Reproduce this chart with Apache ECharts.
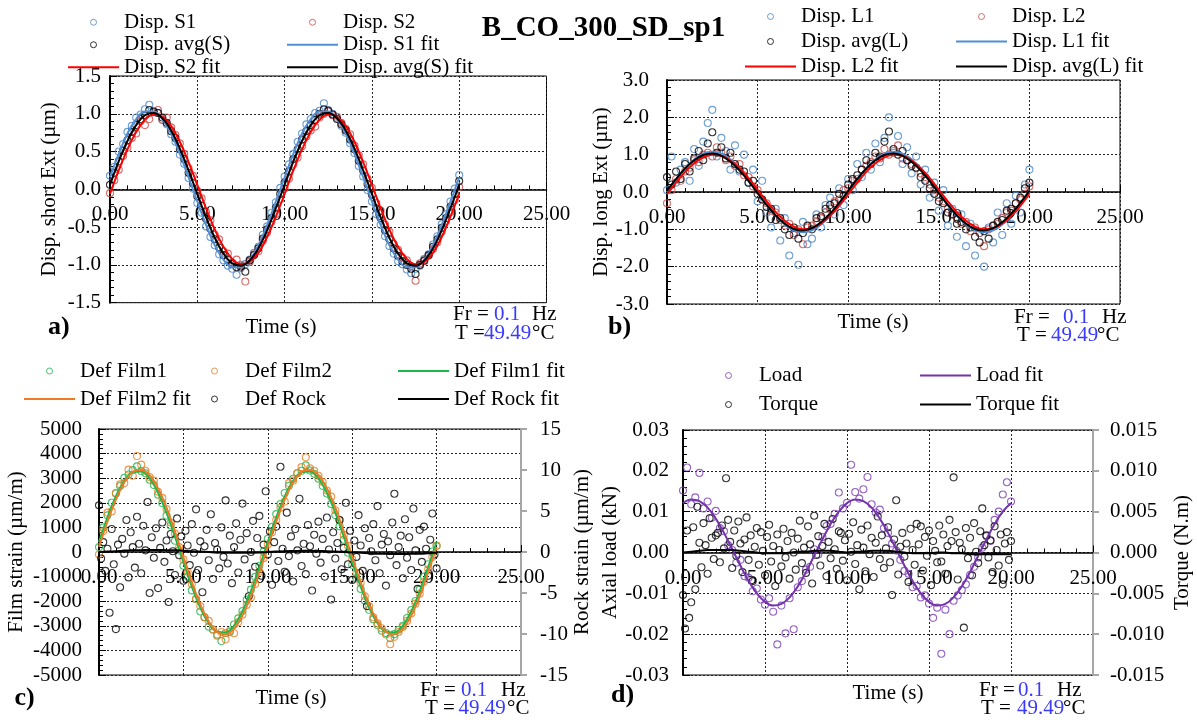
<!DOCTYPE html>
<html>
<head>
<meta charset="utf-8">
<script src="https://cdn.jsdelivr.net/npm/echarts@6.0.0/dist/echarts.min.js"></script>
<style>
html,body{margin:0;padding:0;background:#fff;}
#chart{width:1197px;height:720px;}
</style>
</head>
<body>
<div id="chart"></div>
<script>
// ---- acquisition grids (s) ----
const STEP_SCAN = 0.25;   // displacement / film / load sampling
const STEP_FAST = 0.125;  // rock strain / torque sampling
const STEP_FIT = 0.5;     // fitted curves
const N_SCAN = 81, N_FAST = 161, N_FIT = 41;

// ---- a) short displacement (µm) ----
const dispS1 = [0.18,0.30,0.50,0.60,0.76,0.84,0.95,0.99,1.06,1.12,
 1.03,1.01,0.92,0.86,0.73,0.63,0.46,0.34,0.15,0.01,
 -0.18,-0.31,-0.49,-0.63,-0.74,-0.86,-0.94,-1.01,-1.05,-1.13,
 -1.04,-0.99,-0.93,-0.84,-0.76,-0.60,-0.49,-0.31,-0.17,0.02,
 0.17,0.33,0.47,0.63,0.74,0.86,0.93,1.01,1.04,1.14,
 1.05,1.00,0.94,0.84,0.75,0.61,0.48,0.31,0.17,-0.01,
 -0.16,-0.33,-0.47,-0.62,-0.75,-0.85,-0.95,-0.99,-1.06,-1.11,
 -1.05,-1.01,-0.92,-0.86,-0.73,-0.62,-0.46,-0.33,-0.16,0.01,
 0.19];
const dispS2 = [-0.05,0.12,0.26,0.44,0.55,0.68,0.74,0.90,0.85,0.93,
 1.02,1.05,0.92,0.95,0.82,0.72,0.61,0.47,0.28,0.18,
 -0.02,-0.12,-0.30,-0.41,-0.60,-0.66,-0.82,-0.85,-0.97,-0.93,
 -1.00,-1.22,-0.96,-0.86,-0.82,-0.68,-0.57,-0.43,-0.33,-0.13,
 0.01,0.14,0.33,0.42,0.57,0.70,0.78,0.83,0.95,1.00,
 1.03,0.98,0.96,0.88,0.80,0.73,0.58,0.45,0.33,0.14,
 0.02,-0.18,-0.28,-0.47,-0.56,-0.72,-0.80,-0.90,-0.94,-1.02,
 -1.21,-0.98,-0.95,-0.88,-0.79,-0.70,-0.56,-0.42,-0.30,-0.14,
 0.03];
const dispAvgS = [0.06,0.22,0.37,0.51,0.65,0.76,0.85,0.93,0.98,1.05,
 1.03,1.01,0.95,0.88,0.77,0.68,0.53,0.40,0.22,0.08,
 -0.09,-0.22,-0.39,-0.52,-0.66,-0.77,-0.87,-0.93,-0.99,-1.03,
 -1.02,-1.09,-0.94,-0.87,-0.78,-0.65,-0.53,-0.38,-0.24,-0.06,
 0.09,0.24,0.40,0.53,0.66,0.77,0.85,0.92,1.00,1.06,
 1.04,0.99,0.93,0.86,0.78,0.66,0.53,0.38,0.25,0.07,
 -0.07,-0.25,-0.38,-0.54,-0.66,-0.78,-0.88,-0.95,-1.00,-1.05,
 -1.12,-1.00,-0.94,-0.87,-0.76,-0.66,-0.51,-0.38,-0.23,-0.06,
 0.11];
const fitS1 = [0.16,0.47,0.74,0.93,1.03,1.03,0.93,0.74,0.47,0.16,-0.16,-0.47,-0.74,-0.93,-1.03,-1.03,-0.93,-0.74,-0.47,-0.16,
 0.16,0.47,0.74,0.93,1.03,1.03,0.93,0.74,0.47,0.16,-0.16,-0.47,-0.74,-0.93,-1.03,-1.03,-0.93,-0.74,-0.47,-0.16,0.16];
const fitS2 = [-0.06,0.25,0.53,0.76,0.92,0.99,0.96,0.84,0.63,0.36,0.06,-0.25,-0.53,-0.76,-0.92,-0.99,-0.96,-0.84,-0.63,-0.36,
 -0.06,0.25,0.53,0.76,0.92,0.99,0.96,0.84,0.63,0.36,0.06,-0.25,-0.53,-0.76,-0.92,-0.99,-0.96,-0.84,-0.63,-0.36,-0.06];
const fitAvgS = [0.06,0.37,0.64,0.85,0.98,1.01,0.94,0.78,0.54,0.25,-0.06,-0.37,-0.64,-0.85,-0.98,-1.01,-0.94,-0.78,-0.54,-0.25,
 0.06,0.37,0.64,0.85,0.98,1.01,0.94,0.78,0.54,0.25,-0.06,-0.37,-0.64,-0.85,-0.98,-1.01,-0.94,-0.78,-0.54,-0.25,0.06];

// ---- b) long displacement (µm) ----
const dispL1 = [0.05,0.95,0.25,0.60,0.80,0.30,1.15,0.70,1.35,1.85,
 2.20,0.95,1.45,1.10,0.60,1.25,0.55,1.00,0.25,0.60,
 -0.25,0.30,-0.55,-0.95,-0.45,-1.30,-0.70,-1.70,-1.10,-1.95,
 -0.80,-1.40,-1.25,-0.60,-0.95,-0.35,-0.15,-0.60,0.10,-0.35,
 0.35,0.05,0.75,0.40,1.05,0.60,1.30,0.80,1.45,2.00,
 1.10,1.50,0.75,1.20,0.50,0.95,0.20,0.60,-0.15,0.25,
 -0.50,0.05,-0.90,-0.45,-1.20,-0.60,-1.45,-0.85,-1.70,-1.10,
 -2.00,-0.95,-1.35,-0.55,-1.15,-0.30,-0.85,-0.10,-0.55,0.20,
 0.60];
const dispL2 = [-0.30,0.05,0.35,0.30,0.55,0.65,0.85,0.80,1.00,1.05,
 0.95,1.20,1.05,0.85,0.95,0.70,0.75,0.45,0.40,0.15,
 0.05,-0.20,-0.30,-0.50,-0.55,-0.75,-0.90,-0.85,-1.15,-1.00,
 -1.40,-0.95,-0.90,-0.80,-0.70,-0.55,-0.45,-0.25,-0.20,0.05,
 0.10,0.30,0.35,0.60,0.70,0.80,0.95,0.90,1.15,1.00,
 1.05,1.25,0.90,0.85,0.75,0.65,0.50,0.40,0.20,0.05,
 -0.15,-0.25,-0.45,-0.60,-0.70,-0.85,-0.80,-1.05,-0.95,-1.10,
 -1.45,-1.00,-0.90,-0.85,-0.70,-0.55,-0.50,-0.30,-0.20,-0.05,
 0.15];
const dispAvgL = [0.40,0.20,0.55,0.35,0.75,0.55,0.90,1.10,0.85,1.30,
 1.60,1.05,1.20,0.90,1.05,0.75,0.60,0.55,0.25,0.30,
 -0.05,-0.20,-0.40,-0.45,-0.75,-0.70,-1.00,-1.15,-0.95,-1.25,
 -1.10,-0.90,-1.00,-0.70,-0.65,-0.45,-0.35,-0.30,-0.05,-0.10,
 0.20,0.35,0.45,0.60,0.85,0.75,1.05,0.95,1.35,1.62,
 1.15,1.00,1.10,0.85,0.70,0.65,0.40,0.30,0.10,-0.05,
 -0.25,-0.30,-0.55,-0.60,-0.85,-0.80,-1.00,-0.95,-1.20,-1.35,
 -1.05,-1.25,-0.90,-0.80,-0.75,-0.50,-0.45,-0.30,-0.15,0.10,
 0.25];
const fitL1 = [0,0.33,0.64,0.87,1.03,1.08,1.03,0.87,0.64,0.33,0,-0.33,-0.64,-0.87,-1.03,-1.08,-1.03,-0.87,-0.64,-0.33,
 0,0.33,0.64,0.87,1.03,1.08,1.03,0.87,0.64,0.33,0,-0.33,-0.64,-0.87,-1.03,-1.08,-1.03,-0.87,-0.64,-0.33,0];
const fitL2 = [-0.06,0.25,0.54,0.77,0.93,1.00,0.97,0.84,0.64,0.37,0.06,-0.25,-0.54,-0.77,-0.93,-1.00,-0.97,-0.84,-0.64,-0.37,
 -0.06,0.25,0.54,0.77,0.93,1.00,0.97,0.84,0.64,0.37,0.06,-0.25,-0.54,-0.77,-0.93,-1.00,-0.97,-0.84,-0.64,-0.37,-0.06];
const fitAvgL = [0.03,0.35,0.63,0.85,0.99,1.03,0.97,0.81,0.58,0.29,-0.03,-0.35,-0.63,-0.85,-0.99,-1.03,-0.97,-0.81,-0.58,-0.29,
 0.03,0.35,0.63,0.85,0.99,1.03,0.97,0.81,0.58,0.29,-0.03,-0.35,-0.63,-0.85,-0.99,-1.03,-0.97,-0.81,-0.58,-0.29,0.03];

// ---- c) film strain (µm/m) and rock strain (µm/m) ----
const defFilm1 = [200,1000,1490,2000,2380,2680,3020,3150,3330,3480,
 3290,3200,2940,2720,2330,1990,1480,1080,460,60,
 -560,-1000,-1560,-1920,-2420,-2650,-3040,-3150,-3360,-3620,
 -3300,-3250,-2950,-2700,-2400,-1940,-1530,-1010,-560,20,
 540,1020,1540,1950,2400,2690,2980,3200,3300,3520,
 3310,3180,2980,2690,2380,1950,1500,1050,500,-30,
 -520,-1060,-1500,-1980,-2350,-2730,-2970,-3200,-3290,-3500,
 -3340,-3160,-3000,-2680,-2360,-1990,-1520,-1000,-500,20,
 250];
const defFilm2 = [-100,850,1600,1650,2400,2750,2800,3350,3100,3900,
 3550,3300,3050,2900,2450,2200,1750,1200,750,200,
 -300,-800,-1300,-1900,-2200,-2650,-2800,-3150,-3400,-3250,
 -3550,-3200,-3300,-2850,-2550,-2150,-1850,-1300,-800,-250,
 300,800,1300,1800,2050,2800,2900,3200,3450,3850,
 3400,3300,3100,2850,2500,2250,1700,1300,700,250,
 -300,-850,-1250,-1800,-2200,-2650,-2900,-3100,-3350,-3750,
 -3450,-3250,-3050,-2800,-2500,-2100,-1700,-1200,-700,-200,
 250];
const fitFilm1 = [410,1410,2260,2890,3240,3270,2990,2410,1590,620,-410,-1410,-2260,-2890,-3240,-3270,-2990,-2410,-1590,-620,
 410,1410,2260,2890,3240,3270,2990,2410,1590,620,-410,-1410,-2260,-2890,-3240,-3270,-2990,-2410,-1590,-620,410];
const fitFilm2 = [210,1230,2130,2830,3250,3340,3120,2580,1800,830,-210,-1230,-2130,-2830,-3250,-3340,-3120,-2580,-1800,-830,
 210,1230,2130,2830,3250,3340,3120,2580,1800,830,-210,-1230,-2130,-2830,-3250,-3340,-3120,-2580,-1800,-830,210];
const defRock = [5.7,-0.8,1.2,-2.3,0.4,-7.4,2.8,-1.5,-9.4,0.9,-4.3,1.6,-0.2,3.9,-3.1,2.4,0.6,-1.9,4.3,1.0,
 -2.6,3.2,0.2,6.1,-5.0,1.8,-0.7,2.9,-4.4,0.5,3.6,-1.2,1.4,-6.1,2.2,0.1,-2.8,4.1,-0.4,1.9,
 -3.5,2.6,0.8,-1.6,3.4,-0.1,5.2,-2.2,1.3,-4.9,0.7,2.7,-1.0,4.6,-3.3,1.1,0.3,-2.0,3.0,-0.6,
 6.3,-1.4,2.0,-3.8,0.6,3.5,-2.5,1.5,5.9,-0.9,2.3,-5.4,0.0,3.8,-1.8,1.7,4.4,-2.9,0.9,7.4,
 -0.3,2.5,-4.0,1.2,3.1,-1.1,10.4,0.4,-2.4,4.8,-0.5,1.9,-3.6,2.8,0.2,6.5,-1.7,1.0,-2.7,3.3,
 0.7,-4.7,2.1,-0.2,3.7,-1.3,1.6,-3.0,4.2,0.3,-5.8,2.4,-0.8,1.1,3.9,-2.1,0.5,6.0,-1.5,2.6,
 -3.4,1.4,-0.6,4.5,0.8,-2.3,2.9,-6.6,1.7,0.1,3.4,-1.0,5.6,-2.6,0.9,2.2,-4.1,1.3,-0.4,3.6,
 7.1,-1.6,0.6,2.0,-3.2,4.0,-0.7,1.8,-2.2,5.3,0.2,-4.5,2.7,-1.2,3.1,0.4,-2.9,1.5,4.7,-0.3,
 -2.0];
const fitRock = [0.0,0.05,0.1,0.15,0.2,0.22,0.25,0.25,0.22,0.2,0.15,0.1,0.05,0.0,-0.05,-0.08,-0.1,-0.1,-0.08,-0.05,
 0.0,0.05,0.1,0.12,0.15,0.15,0.12,0.1,0.05,0.0,-0.05,-0.1,-0.15,-0.2,-0.22,-0.25,-0.25,-0.22,-0.2,-0.15,-0.1];

// ---- d) axial load (kN) and torque (N.m) ----
const axialLoad = [0.0152,0.0208,0.0118,0.0135,0.0195,0.0108,0.0125,0.0085,0.0102,0.0060,
 0.0052,0.0018,0.0006,-0.0025,-0.0018,-0.0058,-0.0062,-0.0095,-0.0088,-0.0115,
 -0.0128,-0.0112,-0.0145,-0.0225,-0.0130,-0.0198,-0.0112,-0.0188,-0.0085,-0.0070,
 -0.0042,-0.0035,0.0008,-0.0005,0.0038,0.0065,0.0070,0.0095,0.0147,0.0108,
 0.0122,0.0215,0.0148,0.0132,0.0155,0.0185,0.0118,0.0098,0.0105,0.0060,
 0.0048,0.0022,0.0005,-0.0018,-0.0045,-0.0052,-0.0085,-0.0082,-0.0110,-0.0105,
 -0.0125,-0.0160,-0.0135,-0.0248,-0.0140,-0.0200,-0.0118,-0.0105,-0.0092,-0.0078,
 -0.0055,-0.0035,-0.0012,0.0012,0.0040,0.0028,0.0080,0.0100,0.0142,0.0172,
 0.0125];
const fitLoad = [0.0121,0.0130,0.0126,0.0110,0.0083,0.0048,0.0008,-0.0032,-0.0070,-0.0100,-0.0121,-0.0130,-0.0126,-0.0110,-0.0083,-0.0048,-0.0008,0.0032,0.0070,0.0100,
 0.0121,0.0130,0.0126,0.0110,0.0083,0.0048,0.0008,-0.0032,-0.0070,-0.0100,-0.0121,-0.0130,-0.0126,-0.0110,-0.0083,-0.0048,-0.0008,0.0032,0.0070,0.0100,0.0121];
const torque = [-0.0052,-0.0093,0.0027,-0.0080,-0.0061,0.0031,-0.0045,0.0056,0.0012,-0.0018,0.0036,0.0009,-0.0026,0.0042,0.0018,-0.0008,0.0021,0.0024,-0.0012,0.0033,
 0.0005,0.0091,0.0040,0.0013,-0.0019,0.0027,-0.0004,0.0038,0.0011,-0.0024,0.0016,0.0043,-0.0009,0.0021,-0.0035,0.0007,0.0030,-0.0015,0.0025,0.0002,
 -0.0028,0.0019,0.0034,-0.0011,0.0008,-0.0041,0.0022,0.0003,-0.0017,0.0029,-0.0006,0.0014,-0.0032,0.0024,0.0000,-0.0021,0.0017,0.0039,-0.0013,0.0006,
 -0.0025,0.0032,0.0010,-0.0038,0.0045,-0.0003,0.0020,-0.0016,0.0008,0.0035,-0.0029,0.0013,-0.0007,0.0041,0.0004,-0.0020,0.0026,0.0024,-0.0010,0.0015,
 -0.0034,0.0023,0.0001,0.0037,-0.0014,0.0009,-0.0045,0.0028,0.0006,-0.0023,0.0033,-0.0002,0.0018,-0.0030,0.0012,0.0044,-0.0008,0.0021,-0.0019,0.0005,
 0.0031,-0.0012,-0.0052,0.0016,0.0064,-0.0027,0.0007,0.0024,-0.0005,0.0011,-0.0036,0.0029,0.0003,-0.0015,0.0035,0.0010,0.0032,-0.0022,0.0019,-0.0004,
 0.0027,-0.0040,0.0014,0.0002,-0.0012,0.0033,-0.0011,0.0022,-0.0026,0.0008,0.0040,0.0014,0.0092,0.0025,-0.0033,0.0012,0.0004,-0.0092,0.0030,-0.0007,
 0.0018,-0.0028,0.0036,0.0001,-0.0013,0.0026,0.0054,0.0009,0.0021,-0.0006,0.0015,-0.0024,0.0032,0.0003,-0.0016,0.0022,-0.0039,0.0011,0.0025,-0.0009,
 0.0014];
const fitTorque = [0.0000,0.0001,0.0002,0.0003,0.0003,0.0003,0.0003,0.0002,0.0001,0.0000,
 -0.0001,-0.0001,-0.0001,0.0000,0.0001,0.0001,0.0002,0.0002,0.0002,0.0001,
 0.0000,0.0001,0.0001,0.0002,0.0002,0.0002,0.0001,0.0000,-0.0001,-0.0001,
 -0.0001,0.0000,0.0000,-0.0001,-0.0001,-0.0002,-0.0002,-0.0002,-0.0002,-0.0002,
 -0.0002];

// ---- test conditions ----
const FREQ = '0.1';
const TEMP = '49.49';
const TITLE = 'B_CO_300_SD_sp1';

// ---------------------------------------------------------------
const FONT = '"Liberation Serif","Times New Roman",serif';
const FS = 21;
const GRIDLINE = { show: true, lineStyle: { color: '#222', type: [2, 2], width: 1 } };
// flat bar used as the legend key of the fitted curves
const LINE_KEY = 'path://M0,0L51,0L51,2.2L0,2.2Z';

function sampleTimes(step, n) {
  const out = [];
  for (let i = 0; i < n; i++) out.push(+(i * step).toFixed(3));
  return out;
}
const tScan = sampleTimes(STEP_SCAN, N_SCAN);
const tFast = sampleTimes(STEP_FAST, N_FAST);
const tFit = sampleTimes(STEP_FIT, N_FIT);

function pairs(ts, vs) { return vs.map((v, i) => [ts[i], v]); }

function scatter(name, xi, yi, ts, vs, color) {
  return {
    type: 'scatter', name, xAxisIndex: xi, yAxisIndex: yi,
    data: pairs(ts, vs), symbol: 'circle', symbolSize: 7,
    itemStyle: { color: 'rgba(255,255,255,0)', borderColor: color, borderWidth: 1.1 },
    emphasis: { disabled: true }, z: 2
  };
}
function fitLine(name, xi, yi, vs, color) {
  return {
    type: 'line', name, xAxisIndex: xi, yAxisIndex: yi,
    data: pairs(tFit, vs), showSymbol: false, symbol: 'none', smooth: 0.4,
    lineStyle: { color, width: 2 }, itemStyle: { color },
    emphasis: { disabled: true }, z: 3
  };
}

// time axis drawn through the zero of the value axis (ranges are symmetric)
function xAxis(gi, gridHeight) {
  return {
    type: 'value', gridIndex: gi, min: 0, max: 25, interval: 5,
    position: 'bottom', offset: -gridHeight / 2,
    axisLine: { onZero: false, lineStyle: { color: '#000', width: 1.5 } },
    axisTick: { show: true, inside: true, length: 7, lineStyle: { color: '#000' } },
    minorTick: { show: true, splitNumber: 5, length: 4, lineStyle: { color: '#000' } },
    axisLabel: { formatter: v => v.toFixed(2), margin: 15, color: '#000', fontFamily: FONT, fontSize: FS },
    splitLine: GRIDLINE
  };
}
function yLeft(gi, min, max, step, dec, name, nameGap, margin) {
  return {
    type: 'value', gridIndex: gi, min, max, interval: step, position: 'left',
    name, nameLocation: 'middle', nameGap, nameRotate: 90,
    nameTextStyle: { fontFamily: FONT, fontSize: FS, color: '#000' },
    axisLine: { show: true, onZero: false, lineStyle: { color: '#000', width: 2 } },
    axisTick: { show: true, inside: true, length: 7, lineStyle: { color: '#000' } },
    minorTick: { show: true, splitNumber: 5, length: 4, lineStyle: { color: '#000' } },
    axisLabel: { formatter: v => v.toFixed(dec), margin, color: '#000', fontFamily: FONT, fontSize: FS },
    splitLine: GRIDLINE
  };
}
function yRight(gi, min, max, step, dec, name, nameGap, margin) {
  return {
    type: 'value', gridIndex: gi, min, max, interval: step, position: 'right',
    name, nameLocation: 'middle', nameGap, nameRotate: 90,
    nameTextStyle: { fontFamily: FONT, fontSize: FS, color: '#000' },
    axisLine: { show: true, onZero: false, lineStyle: { color: '#a6a6a6', width: 2 } },
    axisTick: { show: true, inside: false, length: 6, lineStyle: { color: '#a6a6a6', width: 2 } },
    axisLabel: { formatter: v => v.toFixed(dec), margin, color: '#000', fontFamily: FONT, fontSize: FS },
    splitLine: { show: false }
  };
}
function legend(left, top, names, lineH) {
  return {
    orient: 'vertical', left, top, padding: 0, itemGap: 0,
    itemWidth: 51, itemHeight: 6, selectedMode: false,
    itemStyle: { borderWidth: 1 },
    data: names.map(n => / fit$/.test(n) ? { name: n, icon: LINE_KEY } : n),
    textStyle: { fontFamily: FONT, fontSize: FS, color: '#000', lineHeight: lineH }
  };
}
function txt(x, y, text, opt) {
  opt = opt || {};
  return {
    type: 'text', x, y, silent: true,
    style: {
      text, fill: opt.color || '#000',
      font: (opt.bold ? 'bold ' : '') + (opt.size || FS) + 'px ' + FONT,
      align: opt.align || 'left', verticalAlign: 'middle',
      textAlign: opt.align || 'left', textVerticalAlign: 'middle'
    }
  };
}
function conditions(xs, yFr, yT) {
  const blue = '#3a3aff';
  return [
    txt(xs[0], yFr, 'Fr ='), txt(xs[1], yFr, FREQ, { color: blue }), txt(xs[2], yFr, 'Hz'),
    txt(xs[3], yT, 'T ='), txt(xs[4], yT, TEMP, { color: blue }), txt(xs[5], yT, '°C')
  ];
}

const BLUE = '#4a86c8', RED = '#cc4b4b', BLUE_FIT = '#4f8fd6', RED_FIT = '#ff0000';
const GREEN = '#22b04e', GREEN_FIT = '#1db84a', ORANGE = '#f07c22', ORANGE_FIT = '#ee7a26';
const PURPLE = '#7b3fb8', PURPLE_FIT = '#7433aa';

const GRIDS = [
  { left: 110, top: 76, width: 436.5, height: 226.7 },
  { left: 667, top: 80, width: 453, height: 224 },
  { left: 99, top: 429, width: 422, height: 246 },
  { left: 683, top: 430, width: 410, height: 245 }
];

const option = {
  animation: false,
  backgroundColor: '#fff',
  grid: GRIDS.map(g => Object.assign({ show: true, borderColor: '#000', borderWidth: 1 }, g)),
  xAxis: GRIDS.map((g, i) => xAxis(i, g.height)),
  yAxis: [
    yLeft(0, -1.5, 1.5, 0.5, 1, 'Disp. short Ext (µm)', 50, 9),
    yLeft(1, -3, 3, 1, 1, 'Disp. long Ext (µm)', 48, 18),
    yLeft(2, -5000, 5000, 1000, 0, 'Film strain (µm/m)', 72, 17),
    yRight(2, -15, 15, 5, 0, 'Rock strain (µm/m)', 44, 19),
    yLeft(3, -0.03, 0.03, 0.01, 2, 'Axial load (kN)', 62, 14),
    yRight(3, -0.015, 0.015, 0.005, 3, 'Torque (N.m)', 79, 17)
  ],
  legend: [
    legend(68, 11, ['Disp. S1', 'Disp. avg(S)', 'Disp. S2 fit'], 22.5),
    legend(287, 11, ['Disp. S2', 'Disp. S1 fit', 'Disp. avg(S) fit'], 22.5),
    legend(745, 4, ['Disp. L1', 'Disp. avg(L)', 'Disp. L2 fit'], 25),
    legend(956, 4, ['Disp. L2', 'Disp. L1 fit', 'Disp. avg(L) fit'], 25),
    legend(24, 357, ['Def Film1', 'Def Film2 fit'], 28),
    legend(211, 357, ['Def Film2', 'Def Rock'], 28),
    legend(398, 357, ['Def Film1 fit', 'Def Rock fit'], 28),
    legend(725, 361, ['Load', 'Torque'], 29),
    legend(920, 361, ['Load fit', 'Torque fit'], 29)
  ],
  series: [
    scatter('Disp. S1', 0, 0, tScan, dispS1, BLUE),
    scatter('Disp. S2', 0, 0, tScan, dispS2, RED),
    scatter('Disp. avg(S)', 0, 0, tScan, dispAvgS, '#000'),
    fitLine('Disp. S1 fit', 0, 0, fitS1, BLUE_FIT),
    fitLine('Disp. S2 fit', 0, 0, fitS2, RED_FIT),
    fitLine('Disp. avg(S) fit', 0, 0, fitAvgS, '#000'),

    scatter('Disp. L1', 1, 1, tScan, dispL1, BLUE),
    scatter('Disp. L2', 1, 1, tScan, dispL2, RED),
    scatter('Disp. avg(L)', 1, 1, tScan, dispAvgL, '#000'),
    fitLine('Disp. L1 fit', 1, 1, fitL1, BLUE_FIT),
    fitLine('Disp. L2 fit', 1, 1, fitL2, RED_FIT),
    fitLine('Disp. avg(L) fit', 1, 1, fitAvgL, '#000'),

    scatter('Def Film1', 2, 2, tScan, defFilm1, GREEN),
    scatter('Def Film2', 2, 2, tScan, defFilm2, ORANGE),
    fitLine('Def Film1 fit', 2, 2, fitFilm1, GREEN_FIT),
    fitLine('Def Film2 fit', 2, 2, fitFilm2, ORANGE_FIT),
    scatter('Def Rock', 2, 3, tFast, defRock, '#000'),
    fitLine('Def Rock fit', 2, 3, fitRock, '#000'),

    scatter('Load', 3, 4, tScan, axialLoad, PURPLE),
    fitLine('Load fit', 3, 4, fitLoad, PURPLE_FIT),
    scatter('Torque', 3, 5, tFast, torque, '#000'),
    fitLine('Torque fit', 3, 5, fitTorque, '#000')
  ],
  graphic: [
    txt(603.5, 29, TITLE, { bold: true, size: 29, align: 'center' }),
    txt(48, 327, 'a)', { bold: true, size: 26 }),
    txt(608, 327, 'b)', { bold: true, size: 26 }),
    txt(14.5, 698, 'c)', { bold: true, size: 26 }),
    txt(611, 695, 'd)', { bold: true, size: 26 }),
    txt(281, 327, 'Time (s)', { align: 'center' }),
    txt(873, 322, 'Time (s)', { align: 'center' }),
    txt(291, 698, 'Time (s)', { align: 'center' }),
    txt(888, 693, 'Time (s)', { align: 'center' }),
    ...conditions([453, 494, 532, 455, 484, 532], 314, 333),
    ...conditions([1014, 1063, 1102, 1017, 1051, 1097], 317, 335),
    ...conditions([420, 461, 501, 425, 458.5, 507], 690, 708),
    ...conditions([979, 1018, 1057, 981, 1017, 1063], 690, 708)
  ]
};

const chart = echarts.init(document.getElementById('chart'), null, { renderer: 'canvas' });
chart.setOption(option);
</script>
</body>
</html>
